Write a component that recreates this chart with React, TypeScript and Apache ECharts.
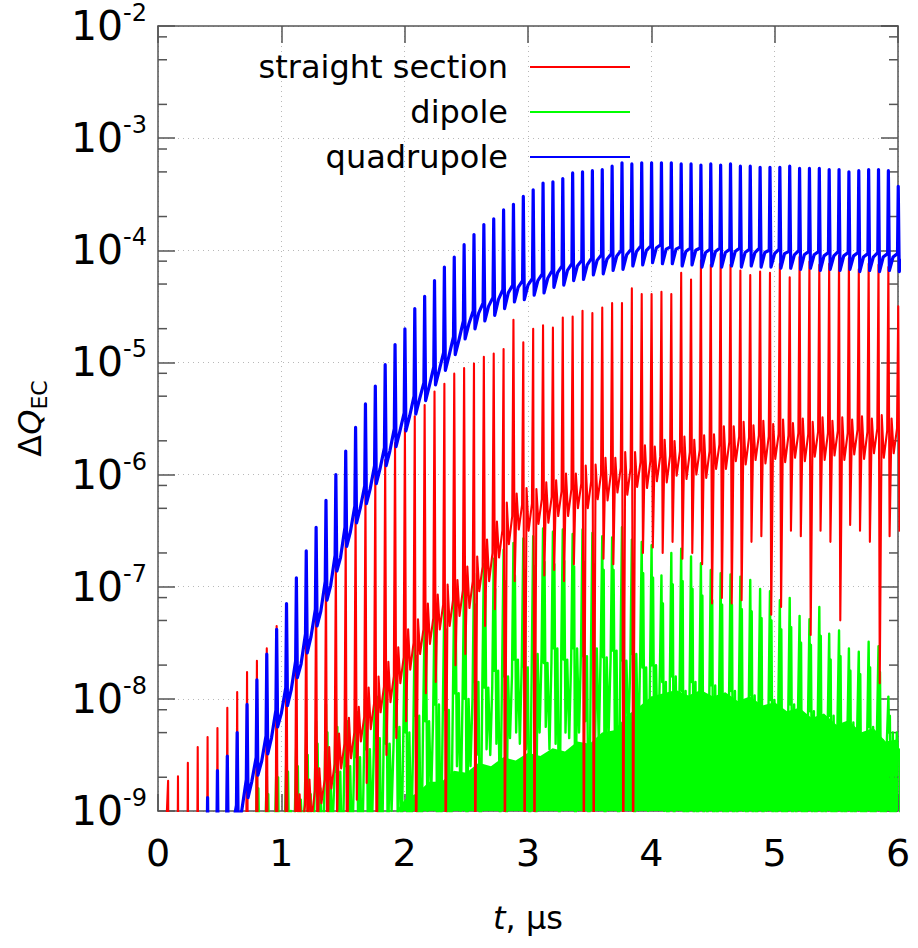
import { useEffect, useRef } from "react";
import * as echarts from "echarts";

const FONT = "DejaVu Sans";

// bunch passage times (µs), one spike per passage
const spikeTimes = [
  0.08, 0.16, 0.24, 0.32, 0.40, 0.48, 0.56, 0.64, 0.72, 0.80, 0.88, 0.96,
  1.04, 1.12, 1.20, 1.28, 1.36, 1.44, 1.52, 1.60, 1.68, 1.76, 1.84, 1.92,
  2.00, 2.08, 2.16, 2.24, 2.32, 2.40, 2.48, 2.56, 2.64, 2.72, 2.80, 2.88,
  2.96, 3.04, 3.12, 3.20, 3.28, 3.36, 3.44, 3.52, 3.60, 3.68, 3.76, 3.84,
  3.92, 4.00, 4.08, 4.16, 4.24, 4.32, 4.40, 4.48, 4.56, 4.64, 4.72, 4.80,
  4.88, 4.96, 5.04, 5.12, 5.20, 5.28, 5.36, 5.44, 5.52, 5.60, 5.68, 5.76,
  5.84, 5.92, 6.00,
];

// ---- quadrupole (log10 ΔQ) ----
const bluePeak = [
  -9.6, -9.4, -9.25, -9.05, -8.88, -8.64, -8.51, -8.30, -8.05, -7.83, -7.60, -7.38,
  -7.15, -6.92, -6.68, -6.47, -6.23, -6.00, -5.79, -5.58, -5.37, -5.21, -5.02, -4.84,
  -4.70, -4.52, -4.41, -4.27, -4.15, -4.06, -3.95, -3.86, -3.77, -3.72, -3.64, -3.59,
  -3.52, -3.46, -3.40, -3.39, -3.36, -3.31, -3.30, -3.29, -3.28, -3.25, -3.22, -3.23,
  -3.22, -3.22, -3.22, -3.22, -3.23, -3.23, -3.24, -3.23, -3.24, -3.23, -3.25, -3.25,
  -3.26, -3.26, -3.26, -3.25, -3.27, -3.27, -3.27, -3.28, -3.28, -3.30, -3.29, -3.28,
  -3.28, -3.29, -3.43,
];
const bluePre = [
  -10.46, -10.26, -10.06, -9.81, -9.56, -9.36, -9.16, -8.95, -8.72, -8.52, -8.33, -8.10,
  -7.90, -7.66, -7.42, -7.20, -6.95, -6.72, -6.47, -6.28, -6.10, -5.92, -5.76, -5.59,
  -5.45, -5.30, -5.18, -5.04, -4.91, -4.77, -4.63, -4.54, -4.47, -4.42, -4.35, -4.31,
  -4.27, -4.25, -4.21, -4.18, -4.14, -4.12, -4.09, -4.07, -4.04, -4.03, -4.00, -3.99,
  -3.96, -3.96, -3.95, -3.97, -3.97, -3.98, -3.98, -3.99, -3.98, -3.99, -3.98, -3.99,
  -3.98, -4.00, -3.99, -4.01, -4.00, -4.01, -4.01, -4.02, -4.01, -4.02, -4.02, -4.03,
  -4.02, -4.03, -4.03,
];
const blueDip = [
  -10.6, -10.4, -10.2, -9.96, -9.72, -9.50, -9.31, -9.11, -8.88, -8.68, -8.49, -8.25,
  -8.06, -7.81, -7.59, -7.35, -7.12, -6.86, -6.64, -6.43, -6.26, -6.08, -5.92, -5.75,
  -5.61, -5.46, -5.34, -5.20, -5.07, -4.93, -4.79, -4.70, -4.63, -4.58, -4.52, -4.46,
  -4.44, -4.40, -4.38, -4.33, -4.31, -4.27, -4.26, -4.22, -4.21, -4.18, -4.17, -4.14,
  -4.13, -4.11, -4.12, -4.12, -4.14, -4.13, -4.15, -4.14, -4.15, -4.14, -4.15, -4.14,
  -4.15, -4.15, -4.16, -4.16, -4.17, -4.16, -4.18, -4.17, -4.18, -4.17, -4.19, -4.18,
  -4.19, -4.18, -4.19,
];
const blueMid = [
  -10.5, -10.3, -10.1, -9.84, -9.58, -9.39, -9.18, -8.99, -8.74, -8.56, -8.35, -8.13,
  -7.92, -7.69, -7.45, -7.22, -6.99, -6.74, -6.51, -6.30, -6.13, -5.95, -5.79, -5.62,
  -5.48, -5.33, -5.21, -5.07, -4.94, -4.80, -4.66, -4.56, -4.50, -4.44, -4.38, -4.33,
  -4.31, -4.27, -4.25, -4.20, -4.18, -4.14, -4.13, -4.09, -4.08, -4.05, -4.04, -4.01,
  -4.00, -3.98, -3.99, -3.99, -4.01, -4.00, -4.02, -4.01, -4.02, -4.01, -4.02, -4.02,
  -4.02, -4.03, -4.03, -4.04, -4.04, -4.04, -4.05, -4.05, -4.05, -4.05, -4.06, -4.06,
  -4.06, -4.06, -4.06,
];

// ---- straight section (log10 ΔQ) ----
const redPeak = [
  -8.73, -8.69, -8.57, -8.43, -8.34, -8.26, -8.08, -7.94, -7.76, -7.66, -7.55, -7.35,
  -7.24, -7.13, -7.03, -6.95, -6.87, -6.76, -6.55, -6.34, -6.17, -6.00, -5.87, -5.72,
  -5.59, -5.48, -5.38, -5.26, -5.19, -5.10, -5.05, -5.01, -4.95, -4.92, -4.88, -4.62,
  -4.82, -4.70, -4.67, -4.69, -4.60, -4.59, -4.54, -4.56, -4.51, -4.47, -4.47, -4.34,
  -4.39, -4.39, -4.37, -4.39, -4.20, -4.26, -4.09, -4.13, -4.03, -4.13, -4.18, -4.22,
  -4.19, -4.20, -4.12, -4.24, -4.06, -4.10, -4.13, -4.12, -4.05, -4.07, -4.17, -4.12,
  -4.13, -4.15, -4.50,
];
const redDip = [
  -11.5, -11.4, -11.3, -11.2, -11.1, -11.0, -10.9, -10.8, -10.6, -10.4, -10.2, -10.0,
  -9.8, -9.6, -9.5, -9.4, -9.6, -9.1, -9.6, -8.9, -8.75, -9.6, -8.5, -8.35,
  -8.2, -9.6, -7.95, -7.85, -9.6, -7.7, -7.6, -9.6, -7.35, -7.2, -9.6, -6.95,
  -9.6, -9.6, -6.9, -6.85, -6.95, -6.8, -9.6, -9.6, -6.75, -6.8, -9.6, -9.6,
  -6.7, -6.65, -6.7, -6.6, -6.75, -6.7, -6.8, -7.15, -7.1, -7.15, -7.12, -6.6,
  -6.55, -7.25, -7.18, -6.5, -6.55, -7.43, -6.5, -6.6, -7.30, -6.45, -6.5, -6.6,
  -7.86, -6.55, -6.5,
];
const redHi = [
  -10.85, -10.75, -10.65, -10.55, -10.45, -10.35, -10.25, -10.05, -9.85, -9.7, -9.55, -9.35,
  -9.02, -8.85, -8.72, -8.62, -8.43, -8.31, -8.17, -8.07, -7.90, -7.80, -7.67, -7.54,
  -7.38, -7.29, -7.15, -7.07, -6.98, -6.94, -6.82, -6.73, -6.58, -6.42, -6.25, -6.17,
  -6.12, -6.13, -6.07, -6.05, -5.99, -5.99, -5.92, -5.91, -5.85, -5.85, -5.80, -5.80,
  -5.74, -5.75, -5.69, -5.70, -5.66, -5.69, -5.65, -5.64, -5.57, -5.57, -5.53, -5.56,
  -5.52, -5.55, -5.51, -5.54, -5.50, -5.53, -5.49, -5.52, -5.49, -5.51, -5.48, -5.50,
  -5.47, -5.50, -5.48,
];
const redLo = [
  -11.2, -11.1, -11.0, -10.9, -10.8, -10.7, -10.6, -10.4, -10.2, -10.0, -9.9, -9.7,
  -9.40, -9.18, -9.08, -8.93, -8.80, -8.62, -8.53, -8.38, -8.27, -8.12, -8.03, -7.86,
  -7.74, -7.60, -7.51, -7.38, -7.35, -7.26, -7.19, -7.04, -6.95, -6.74, -6.62, -6.49,
  -6.50, -6.44, -6.43, -6.37, -6.37, -6.30, -6.30, -6.22, -6.23, -6.16, -6.18, -6.11,
  -6.12, -6.06, -6.07, -6.01, -6.04, -6.00, -6.03, -5.95, -5.95, -5.88, -5.91, -5.87,
  -5.90, -5.86, -5.89, -5.85, -5.88, -5.84, -5.87, -5.83, -5.87, -5.82, -5.86, -5.81,
  -5.85, -5.81, -5.84,
];
const redPre = [
  -10.95, -10.85, -10.75, -10.65, -10.55, -10.45, -10.35, -10.15, -9.95, -9.8, -9.65, -9.45,
  -9.12, -8.95, -8.82, -8.72, -8.58, -8.40, -8.30, -8.16, -8.04, -7.89, -7.80, -7.63,
  -7.50, -7.38, -7.28, -7.16, -7.12, -7.03, -6.95, -6.82, -6.70, -6.50, -6.37, -6.27,
  -6.26, -6.22, -6.20, -6.15, -6.13, -6.08, -6.06, -6.00, -5.99, -5.94, -5.94, -5.89,
  -5.88, -5.84, -5.83, -5.79, -5.80, -5.78, -5.79, -5.73, -5.71, -5.66, -5.67, -5.65,
  -5.66, -5.64, -5.65, -5.63, -5.64, -5.62, -5.63, -5.61, -5.63, -5.60, -5.62, -5.59,
  -5.61, -5.59, -5.60,
];

// ---- dipole (log10 ΔQ) ----
const greenPeak = [
  -10, -10, -10, -10, -10, -10, -10, -10, -9.6,
  -8.6, -8.65, -8.5, -8.45, -8.35, -8.3, -8.2, -8.05, -8.0, -7.95, -7.88, -7.8,
  -7.72, -7.6, -7.55, -7.45, -7.35, -7.3, -7.2, -7.1, -7.0, -6.92, -6.88, -6.8,
  -6.75, -6.67, -6.61, -6.57, -6.55, -6.48, -6.51, -6.49, -6.53, -6.49, -6.52, -6.55,
  -6.56, -6.47, -6.58, -6.60, -6.63, -6.90, -6.70, -6.66, -6.73, -6.79, -6.85, -6.88,
  -6.89, -6.91, -6.94, -7.02, -7.04, -7.12, -7.10, -7.26, -7.29, -7.18, -7.42, -7.39,
  -7.55, -7.58, -7.49, -7.53, -7.98, -8.5,
];
const greenD1 = [
  -10.2, -10.2, -10.2, -10.2, -10.2, -10.2, -10.2, -10.2, -9.9,
  -8.8, -8.85, -8.7, -8.65, -8.6, -8.5, -8.4, -8.3, -8.25, -8.2, -8.12, -8.05,
  -7.98, -7.85, -7.8, -7.7, -7.62, -7.55, -7.48, -7.38, -7.28, -7.2, -7.16, -7.08,
  -7.02, -6.95, -6.9, -6.85, -6.82, -6.78, -6.8, -6.77, -6.82, -6.78, -6.8, -6.85,
  -6.85, -6.77, -6.86, -6.88, -6.92, -7.15, -6.98, -6.95, -7.02, -7.08, -7.12, -7.16,
  -7.16, -7.2, -7.22, -7.28, -7.3, -7.38, -7.36, -7.5, -7.52, -7.44, -7.65, -7.62,
  -7.75, -7.78, -7.72, -7.76, -8.15, -8.7,
];
const greenLo1 = [
  -10.5, -10.5, -10.5, -10.5, -10.5, -10.5, -10.5, -10.5, -10.5,
  -9.6, -9.5, -9.7, -9.4, -9.6, -9.5, -9.3, -9.6, -9.4, -9.5, -9.3, -9.6,
  -9.2, -9.5, -9.1, -9.6, -9.3, -9.0, -9.5, -9.2, -8.6, -9.6, -8.5, -8.45,
  -8.4, -9.5, -8.3, -8.45, -9.6, -8.25, -8.4, -8.3, -9.5, -8.2, -8.35, -9.6,
  -8.3, -8.4, -9.5, -8.5, -8.6, -9.0, -9.4, -9.6, -9.1, -9.3, -9.6, -9.2,
  -9.5, -9.0, -9.4, -9.6, -9.2, -9.5, -9.3, -9.6, -9.1, -9.4, -9.6, -9.2,
  -9.5, -9.3, -9.6, -9.2, -9.5, -9.4,
];
const greenMid = [
  -10.2, -10.2, -10.2, -10.2, -10.2, -10.2, -10.2, -10.2, -9.8,
  -9.2, -9.1, -9.05, -9.0, -8.9, -8.85, -8.8, -8.72, -8.65, -8.6, -8.52, -8.45,
  -8.35, -8.4, -8.25, -8.3, -8.15, -8.2, -8.05, -8.1, -7.95, -8.0, -7.85, -7.9,
  -7.75, -7.8, -7.65, -7.72, -7.6, -7.68, -7.55, -7.65, -7.55, -7.62, -7.55, -7.63,
  -7.57, -7.66, -7.6, -7.72, -7.7, -7.85, -7.8, -7.93, -7.85, -7.97, -7.88, -8.0,
  -7.93, -8.05, -7.97, -8.09, -8.01, -8.13, -8.05, -8.18, -8.11, -8.23, -8.15, -8.28,
  -8.21, -8.33, -8.25, -8.37, -8.3, -8.45,
];
const greenLo2 = [
  -10.5, -10.5, -10.5, -10.5, -10.5, -10.5, -10.5, -10.5, -10.5,
  -9.5, -9.6, -9.4, -9.6, -9.3, -9.6, -9.5, -9.2, -9.6, -9.4, -9.5, -9.2,
  -9.6, -9.0, -9.4, -9.3, -9.6, -8.9, -9.4, -9.6, -9.0, -8.6, -9.6, -8.5,
  -9.2, -8.35, -8.4, -9.4, -8.3, -8.45, -9.3, -8.35, -8.3, -9.5, -8.4, -8.3,
  -9.4, -8.35, -8.5, -9.0, -8.6, -9.6, -8.95, -9.4, -9.6, -9.1, -9.3, -9.6,
  -9.2, -9.6, -9.3, -9.0, -9.6, -9.4, -9.2, -9.6, -9.5, -9.1, -9.6, -9.4,
  -9.2, -9.6, -9.3, -9.5, -9.6, -9.4,
];
// dense lower part of the dipole trace: upper edge of the solid band, read every 0.1 µs
const greenFillTimes = [
  1.9, 2.0, 2.1, 2.2, 2.3, 2.4, 2.5, 2.6, 2.7, 2.8, 2.9, 3.0, 3.1, 3.2, 3.3,
  3.4, 3.5, 3.6, 3.7, 3.8, 3.9, 4.0, 4.1, 4.2, 4.3, 4.4, 4.5, 4.6, 4.7, 4.8,
  4.9, 5.0, 5.1, 5.2, 5.3, 5.4, 5.5, 5.6, 5.7, 5.8, 5.9, 6.0,
];
const greenFillTop = [
  -9.05, -8.9, -8.84, -8.74, -8.74, -8.64, -8.66, -8.57, -8.6, -8.52, -8.55, -8.48, -8.51, -8.44, -8.47,
  -8.38, -8.4, -8.3, -8.28, -8.15, -8.07, -7.98, -7.95, -7.92, -7.97, -7.92, -7.98, -7.94, -8.02, -7.98,
  -8.06, -8.03, -8.11, -8.08, -8.17, -8.13, -8.23, -8.19, -8.3, -8.26, -8.38, -8.36,
];
const greenFillFloor = -9.05;

// axes
const xTickLabels = ["0", "1", "2", "3", "4", "5", "6"];
const yTickExponents = [-9, -8, -7, -6, -5, -4, -3, -2];
const yMinorTicks = [
  2e-9, 5e-9, 8e-9, 2e-8, 5e-8, 8e-8, 2e-7, 5e-7, 8e-7, 2e-6, 5e-6, 8e-6,
  2e-5, 5e-5, 8e-5, 2e-4, 5e-4, 8e-4, 2e-3, 5e-3, 8e-3,
];
const seriesNames = ["straight section", "dipole", "quadrupole"];

const pw = (v: number) => Math.pow(10, v);

function buildBlue() {
  const d: number[][] = [[0, pw(-10.6)]];
  spikeTimes.forEach((t, i) => {
    d.push([t - 0.004, pw(bluePre[i])]);
    d.push([t + 0.002, pw(bluePeak[i])]);
    d.push([t + 0.01, pw(blueDip[i])]);
    d.push([t + 0.04, pw(blueMid[i])]);
  });
  return d;
}
function buildRed() {
  const d: number[][] = [[0, pw(-11)]];
  spikeTimes.forEach((t, i) => {
    d.push([t + 0.002, pw(redPeak[i])]);
    d.push([t + 0.012, pw(redDip[i])]);
    d.push([t + 0.028, pw(redHi[i])]);
    d.push([t + 0.045, pw(redLo[i])]);
    d.push([t + 0.072, pw(redPre[i])]);
  });
  return d;
}
function buildGreen() {
  const d: number[][] = [[0, pw(-10.5)]];
  spikeTimes.forEach((t, i) => {
    d.push([t + 0.002, pw(greenPeak[i])]);
    d.push([t + 0.008, pw(greenMid[i])]);
    d.push([t + 0.014, pw(greenD1[i])]);
    d.push([t + 0.024, pw(greenLo1[i])]);
    d.push([t + 0.038, pw(greenMid[i])]);
    d.push([t + 0.054, pw(greenLo2[i])]);
    d.push([t + 0.07, pw(greenMid[i])]);
  });
  return d;
}

const AX = "#555555";

export default function App() {
  const ref = useRef<HTMLDivElement>(null);
  useEffect(() => {
    if (!ref.current) return;
    const chart = echarts.init(ref.current, undefined, { renderer: "svg" });
    const tickStyle = { color: AX, width: 1.5 };
    const baseX = {
      type: "value",
      min: 0,
      max: 6,
      interval: 1,
      axisLine: { show: true, onZero: false, lineStyle: tickStyle },
      axisTick: { show: true, inside: true, length: 17, lineStyle: tickStyle },
    };
    const baseY = {
      type: "log",
      logBase: 10,
      min: 1e-9,
      max: 1e-2,
      splitNumber: 7,
      axisLine: { show: true, onZero: false, lineStyle: tickStyle },
      axisTick: { show: true, inside: true, length: 17, lineStyle: tickStyle },
    };
    const lineCommon = {
      type: "line",
      showSymbol: false,
      symbol: "none",
      clip: true,
      silent: true,
    };
    const option: any = {
      animation: false,
      backgroundColor: "#ffffff",
      grid: { left: 158, top: 26, right: 20, bottom: 137, containLabel: false, outerBoundsMode: "none" },
      legend: {
        show: true,
        data: seriesNames,
        orient: "vertical",
        right: 283,
        top: 46,
        align: "right",
        icon: "rect",
        itemWidth: 100,
        itemHeight: 2,
        itemGap: 13,
        selectedMode: false,
        textStyle: { fontSize: 32, fontFamily: FONT, color: "#000", padding: [0, 17, 0, 0] },
      },
      xAxis: [
        {
          ...baseX,
          position: "bottom",
          axisLabel: {
            show: true,
            margin: 23,
            fontSize: 38,
            fontFamily: FONT,
            color: "#000",
            formatter: (v: number) => xTickLabels[Math.round(v)] ?? "",
          },
          splitLine: { show: true, lineStyle: { type: [1, 4], color: "#b8b8b8", width: 1 } },
          name: "{i|t}{n|, µs}",
          nameLocation: "middle",
          nameGap: 91,
          nameTextStyle: {
            rich: {
              i: { fontSize: 32, fontFamily: FONT, fontStyle: "italic", color: "#000" },
              n: { fontSize: 32, fontFamily: FONT, color: "#000" },
            },
          },
        },
        {
          ...baseX,
          position: "top",
          axisLabel: { show: false },
          splitLine: { show: false },
        },
      ],
      yAxis: [
        {
          ...baseY,
          position: "left",
          axisLabel: {
            show: true,
            margin: 11,
            formatter: (v: number) => {
              const e = Math.round(Math.log10(v));
              return yTickExponents.includes(e) ? `{b|10}{e|${e}}` : "";
            },
            rich: {
              b: { fontSize: 41, fontFamily: FONT, color: "#000", lineHeight: 50 },
              e: { fontSize: 24, fontFamily: FONT, color: "#000", verticalAlign: "top", lineHeight: 24 },
            },
          },
          splitLine: { show: true, lineStyle: { type: [1, 4], color: "#b8b8b8", width: 1 } },
          name: "{d|Δ}{q|Q}{s|EC}",
          nameLocation: "middle",
          nameRotate: 90,
          nameGap: 108,
          nameTextStyle: {
            rich: {
              d: { fontSize: 32, fontFamily: FONT, color: "#000", lineHeight: 40 },
              q: { fontSize: 32, fontFamily: FONT, fontStyle: "italic", color: "#000", lineHeight: 40 },
              s: { fontSize: 22, fontFamily: FONT, color: "#000", verticalAlign: "bottom", lineHeight: 22 },
            },
          },
        },
        {
          ...baseY,
          position: "right",
          axisLabel: { show: false },
          splitLine: { show: false },
        },
      ],
      series: [
        {
          name: "dipole-band",
          type: "custom",
          xAxisIndex: 0,
          yAxisIndex: 0,
          silent: true,
          clip: true,
          data: [[0, 1e-9]],
          renderItem: (_p: any, api: any) => {
            const top = greenFillTimes.map((t, i) => api.coord([t, pw(greenFillTop[i])]));
            const bot = [
              api.coord([greenFillTimes[greenFillTimes.length - 1], pw(greenFillFloor)]),
              api.coord([greenFillTimes[0], pw(greenFillFloor)]),
            ];
            return { type: "polygon", shape: { points: top.concat(bot) }, style: { fill: "#00ff00" } };
          },
        },
        {
          ...lineCommon,
          name: "dipole",
          data: buildGreen(),
          color: "#00ff00",
          itemStyle: { color: "#00ff00" },
          lineStyle: { color: "#00ff00", width: 2.4, join: "round" },
        },
        {
          ...lineCommon,
          name: "straight section",
          data: buildRed(),
          color: "#ff0000",
          itemStyle: { color: "#ff0000" },
          lineStyle: { color: "#ff0000", width: 2.1, join: "round" },
        },
        {
          ...lineCommon,
          name: "quadrupole",
          data: buildBlue(),
          color: "#0000ff",
          itemStyle: { color: "#0000ff" },
          lineStyle: { color: "#0000ff", width: 3.2, join: "round" },
        },
        {
          name: "minor-ticks",
          type: "custom",
          xAxisIndex: 0,
          yAxisIndex: 0,
          silent: true,
          clip: false,
          data: yMinorTicks.map((v) => [0, v]),
          renderItem: (_p: any, api: any) => {
            const v = api.value(1);
            const a = api.coord([0, v]);
            const b = api.coord([6, v]);
            return {
              type: "group",
              children: [
                { type: "line", shape: { x1: a[0], y1: a[1], x2: a[0] + 9, y2: a[1] }, style: { stroke: AX, lineWidth: 1.5 } },
                { type: "line", shape: { x1: b[0] - 9, y1: b[1], x2: b[0], y2: b[1] }, style: { stroke: AX, lineWidth: 1.5 } },
              ],
            };
          },
        },
      ],
    };
    chart.setOption(option);
    return () => chart.dispose();
  }, []);
  return <div ref={ref} style={{ width: 918, height: 948, position: "absolute", left: 0, top: 0 }} />;
}
